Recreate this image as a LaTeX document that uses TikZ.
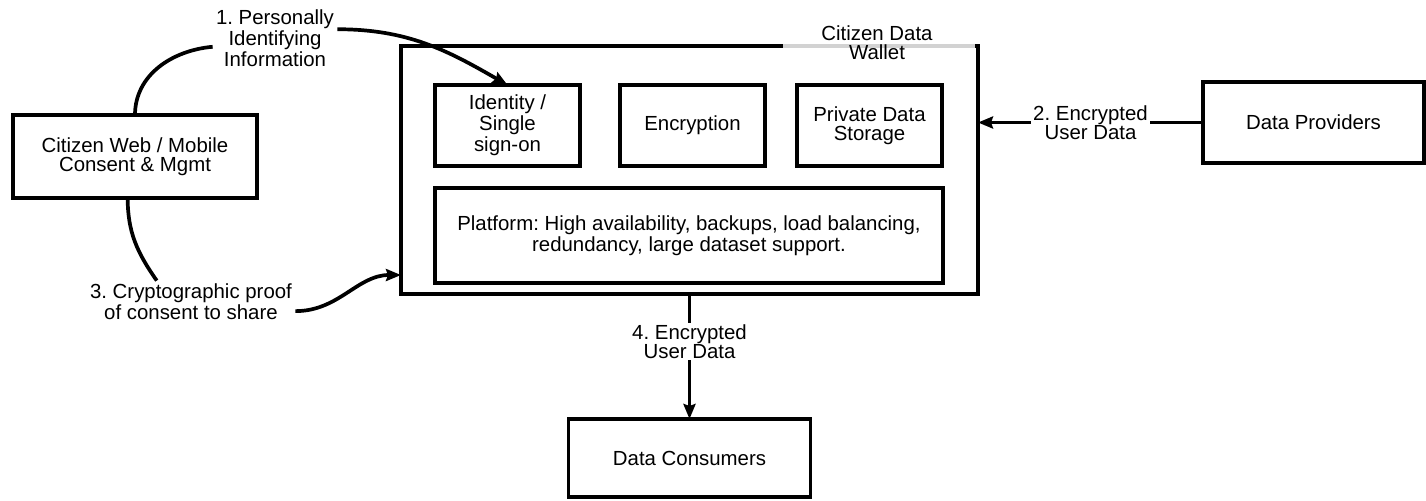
\documentclass[tikz,border=0pt]{standalone}
\usepackage{fontspec}
\setmainfont{Liberation Sans}
\usetikzlibrary{arrows.meta,positioning}
\frenchspacing

\begin{document}
\begin{tikzpicture}[x=0.5pt,y=-0.5pt,on grid,
    every node/.style={font=\fontsize{10.2}{9.4}\selectfont,align=center},
    box/.style={draw,line width=1.85pt,outer sep=0pt,inner sep=1pt},
    part/.style={box,minimum width=72.5pt,minimum height=40.5pt},
    lbl/.style={inner sep=1.5pt},
    link/.style={line width=1.85pt},
    flow/.style={link,-{Stealth[length=7.5pt,width=6pt,inset=1pt]}}]
    \useasboundingbox (0,0) rectangle (1426,500);

    \node[box,minimum width=122pt,minimum height=41.5pt] (cit) at (135,156.5) {Citizen Web / Mobile\\Consent \& Mgmt};
    \node[box,minimum width=288.5pt,minimum height=124pt] (wal) at (689.5,170) {};
    \node[part] (idn) at (507.5,125.5) {Identity /\\Single\\sign-on};
    \node[part] (enc) [right=92.5pt of idn] {Encryption};
    \node[part] (pds) [right=88.5pt of enc] {Private Data\\Storage};
    \node[box,minimum width=254pt,minimum height=47.5pt] (plat) at (689,235.5)
        {Platform: High availability, backups, load balancing,\\redundancy, large dataset support.};
    \node[box,minimum width=110.5pt,minimum height=40.5pt] (prov) at (1313.5,122.5) {Data Providers};
    \node[box,minimum width=121pt,minimum height=39pt] (cons) [below=144pt of wal] {Data Consumers};

    \draw[gray!35,line width=1.85pt] ([xshift=-97.5pt]wal.north east) -- ([xshift=-1.5pt]wal.north east);
    \node (ttl) at (877,42.5) {Citizen Data\\Wallet};

    \node[lbl] (pii) at (275,38) {1. Personally\\Identifying\\Information};
    \node[lbl] (proof) at (191,302) {3. Cryptographic proof\\of consent to share};

    \draw[link] (cit.north) to[out=90,in=185] (pii.188);
    \draw[flow] (pii.8) to[out=0,in=150] (idn.north);
    \draw[link] (cit.-100) to[out=-90,in=125] (proof.148);
    \draw[flow] (proof.-5) to[out=0,in=180] (wal.200);
    \draw[flow] (prov.west) -- node[fill=white,inner sep=1pt] {2. Encrypted\\User Data} (prov.west -| wal.east);
    \draw[flow] (wal.south) -- node[pos=0.38,fill=white,inner sep=1pt] {4. Encrypted\\User Data} (cons.north);
\end{tikzpicture}
\end{document}
